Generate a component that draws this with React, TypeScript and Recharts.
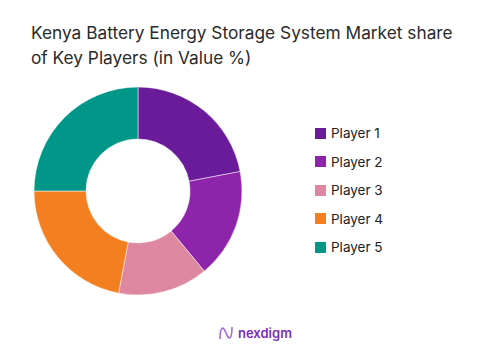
import { PieChart, Pie, Cell } from 'recharts';

const players = ['Player 1', 'Player 2', 'Player 3', 'Player 4', 'Player 5'];
const shares = [22, 17, 14, 22, 25];
const colors = ['#6a1b9a', '#8e24aa', '#de87a0', '#f47f20', '#009688'];

const data = players.map((name, i) => ({ name, value: shares[i] }));

function LegendList() {
  return (
    <div style={{ position: 'absolute', left: 315, top: 124, display: 'flex', flexDirection: 'column', gap: 10 }}>
      {players.map((p, i) => (
        <div key={p} style={{ display: 'flex', alignItems: 'center', height: 18.5 }}>
          <span style={{ width: 11, height: 11, background: colors[i], marginRight: 5 }} />
          <span style={{ fontSize: 13.5, color: '#222' }}>{p}</span>
        </div>
      ))}
    </div>
  );
}

export default function App() {
  return (
    <div style={{ position: 'relative', width: 477, height: 363, margin: -8, background: '#fff', fontFamily: 'Inter, sans-serif', overflow: 'hidden' }}>
      <div style={{ position: 'absolute', left: 31, top: 20, fontSize: 17.3, lineHeight: '25px', color: '#2a2a2a' }}>
        Kenya Battery Energy Storage System Market share<br />of Key Players (in Value %)
      </div>
      <PieChart
        width={477}
        height={363}
        margin={{ top: 0, right: 0, bottom: 0, left: 0 }}
        style={{ position: 'absolute', left: 0, top: 0 }}
      >
        <Pie
          data={data}
          dataKey="value"
          nameKey="name"
          cx={138}
          cy={191}
          innerRadius={52}
          outerRadius={104}
          startAngle={90}
          endAngle={-270}
          stroke="#fff"
          strokeWidth={0.5}
          isAnimationActive={false}
        >
          {data.map((d, i) => (
            <Cell key={d.name} fill={colors[i]} />
          ))}
        </Pie>
      </PieChart>
      <LegendList />
      <div style={{ position: 'absolute', left: 218, top: 323, display: 'flex', alignItems: 'center' }}>
        <svg width={16} height={20} viewBox="0 0 16 20">
          <path d="M2 16 C2 4 5 2 8 10 C11 18 14 16 14 4" stroke="#a46bd8" strokeWidth={1.6} fill="none" />
        </svg>
        <span style={{ marginLeft: 4, fontSize: 13, fontWeight: 600, color: '#7b2cbf' }}>nexdigm</span>
      </div>
    </div>
  );
}
